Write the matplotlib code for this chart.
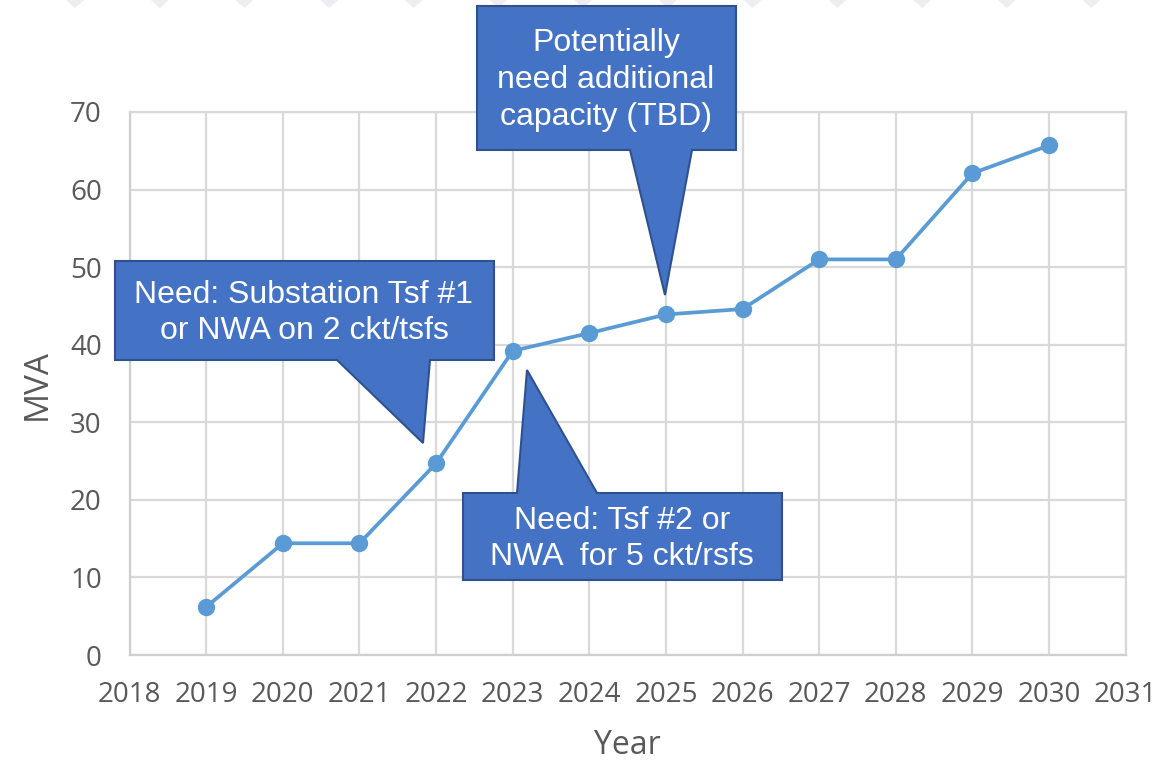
import matplotlib
matplotlib.use("Agg")
import matplotlib.pyplot as plt
from matplotlib.patches import Polygon

# Forecast load (MVA) by year
years = [2019, 2020, 2021, 2022, 2023, 2024, 2025, 2026, 2027, 2028, 2029, 2030]
mva = [6.2, 14.4, 14.4, 24.7, 39.2, 41.5, 43.9, 44.6, 51.0, 51.0, 62.1, 65.7]

x_ticks = list(range(2018, 2032))
y_ticks = [0, 10, 20, 30, 40, 50, 60, 70]

callout_texts = [
    "Need: Substation Tsf #1\nor NWA on 2 ckt/tsfs",
    "Potentially\nneed additional\ncapacity (TBD)",
    "Need: Tsf #2 or\nNWA  for 5 ckt/rsfs",
]

W, H = 1168, 773
fig = plt.figure(figsize=(W / 100, H / 100), dpi=100)
fig.patch.set_facecolor("white")


def px(x, y):
    """Pixel position (top-left origin) -> figure fraction."""
    return (x / W, 1 - y / H)


# faint chevrons along the top edge of the slide
for k in range(13):
    cx = 75 + 84.7 * k
    fig.patches.append(Polygon([px(cx - 9, 0), px(cx + 9, 0), px(cx, 8)],
                               closed=True, transform=fig.transFigure,
                               facecolor="#EDEDF2", edgecolor="none"))

ax = fig.add_axes([129.6 / W, (H - 655) / H, (1125.7 - 129.6) / W, (655 - 112) / H])
ax.set_xlim(2018, 2031)
ax.set_ylim(0, 70)
ax.set_xticks(x_ticks)
ax.set_yticks(y_ticks)
grid_c = "#D9D9D9"
ax.grid(True, color=grid_c, linewidth=1.6)
ax.set_axisbelow(True)
for s in ax.spines.values():
    s.set_color(grid_c)
    s.set_linewidth(1.6)
ax.spines["left"].set_color("#CFCFCF")
ax.spines["bottom"].set_color("#CFCFCF")
ax.tick_params(length=0, labelsize=20, labelcolor="#595959")
ax.tick_params(axis="x", pad=19)
ax.tick_params(axis="y", pad=20)
for lab in ax.get_xticklabels() + ax.get_yticklabels():
    lab.set_fontfamily("Open Sans")

ax.plot(years, mva, color="#5B9BD5", linewidth=2.7, marker="o",
        markersize=12.5, markeredgewidth=0, zorder=3)

fig.text(37 / W, 1 - 385 / H, "MVA", rotation=90, ha="center", va="center",
         fontsize=24, color="#595959", family="Open Sans")
fig.text(627 / W, 1 - 745 / H, "Year", ha="center", va="center",
         fontsize=23, color="#595959", family="Open Sans")

fill_c = "#4472C4"
edge_c = "#2F528F"

# callout shapes (box with a pointer), in pixel coordinates
shapes = [
    [(115, 261), (494, 261), (494, 360), (430, 360), (423, 443), (337, 360), (115, 360)],
    [(477, 6), (736, 6), (736, 150), (692, 150), (665, 295), (630, 150), (477, 150)],
    [(463, 493), (517, 493), (527, 370), (597, 493), (782, 493), (782, 580), (463, 580)],
]
text_pos = [(304, 313), (606, 80), (622, 539)]

for pts, (tx, ty), txt in zip(shapes, text_pos, callout_texts):
    fig.patches.append(Polygon([px(*p) for p in pts], closed=True,
                               transform=fig.transFigure, facecolor=fill_c,
                               edgecolor=edge_c, linewidth=1.5, zorder=5))
    fig.text(tx / W, 1 - ty / H, txt, ha="center", va="center", color="white",
             fontsize=23, family="Liberation Sans", linespacing=1.3, zorder=6)

fig.savefig("out.png", dpi=100, facecolor="white")
